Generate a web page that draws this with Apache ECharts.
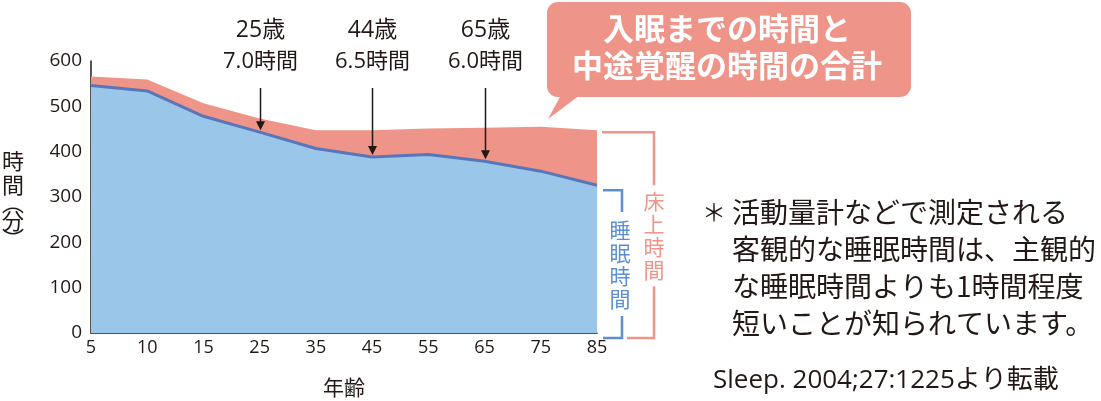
<!DOCTYPE html>
<html><head><meta charset="utf-8">
<script src="https://cdn.jsdelivr.net/npm/echarts@6/dist/echarts.min.js"></script>
<style>html,body{margin:0;padding:0;background:#fff}#c{width:1101px;height:401px}</style>
</head><body><div id="c"></div>
<script>
// ---- data ----
const categories = ['5','10','15','25','35','45','55','65','75','85'];
const sleepTime = [546, 534, 478, 443, 407, 388, 394, 379, 357, 326]; // 睡眠時間 (min)
const bedTime   = [566, 559, 507, 473, 447, 447, 451, 453, 455, 447]; // 床上時間 (min)
const yMin = 0, yMax = 600, yStep = 100;
const annCats  = ['25', '45', '65'];
const annAges  = ['25歳', '44歳', '65歳'];
const annHours = ['7.0時間', '6.5時間', '6.0時間'];
const bubbleLines = ['入眠までの時間と', '中途覚醒の時間の合計'];
const noteMark = '＊';
const noteLines = ['活動量計などで測定される', '客観的な睡眠時間は、主観的', 'な睡眠時間よりも1時間程度', '短いことが知られています。'];
const sourceText = 'Sleep. 2004;27:1225より転載';
const sleepLabel = '睡眠時間';
const bedLabel = '床上時間';

// ---- style ----
const FONT = '"Noto Sans CJK JP", "Noto Sans", sans-serif';
const NUMFONT = '"Open Sans", "Noto Sans CJK JP", sans-serif';
const INK = '#231815';
const PINK = '#EF9488';
const BLUE_FILL = '#9AC7E9';
const BLUE_LINE = '#5877BA';
const BRACKET_BLUE = '#5E8ED2';
const BRACKET_PINK = '#EF9488';

const chart = echarts.init(document.getElementById('c'), null, {renderer: 'canvas'});
chart.setOption({
  animation: false,
  backgroundColor: '#fff',
  grid: {left: 91, right: 504, top: 61, bottom: 68, outerBoundsMode: 'none', containLabel: false},
  xAxis: {
    type: 'category', data: categories, boundaryGap: false,
    axisLine: {lineStyle: {color: INK, width: 1.5}},
    axisTick: {show: false},
    axisLabel: {color: INK, fontSize: 18, fontFamily: NUMFONT, margin: 6},
    name: '年齢', nameLocation: 'middle', nameGap: 44,
    nameTextStyle: {color: INK, fontSize: 21, fontFamily: FONT}
  },
  yAxis: {
    type: 'value', min: yMin, max: yMax, interval: yStep,
    axisLine: {show: true, lineStyle: {color: INK, width: 1.5}},
    axisTick: {show: false},
    splitLine: {show: false},
    axisLabel: {color: INK, fontSize: 19, fontFamily: NUMFONT, margin: 9},
    name: '{a|時}\n{a|間}\n{p|︵}\n{a|分}\n{p|︶}',
    nameLocation: 'middle', nameRotate: 0, nameGap: 67,
    nameTextStyle: {
      color: INK, fontFamily: FONT, fontSize: 22,
      rich: {
        a: {fontSize: 22, lineHeight: 24, fontFamily: FONT, color: INK},
        p: {fontSize: 22, lineHeight: 12, fontFamily: FONT, color: INK}
      }
    }
  },
  series: [
    {
      name: '床上時間', type: 'line', data: bedTime, symbol: 'none',
      lineStyle: {width: 0, color: PINK},
      areaStyle: {color: PINK, opacity: 1}
    },
    {
      name: '睡眠時間', type: 'line', data: sleepTime, symbol: 'none',
      lineStyle: {width: 3, color: BLUE_LINE},
      areaStyle: {color: BLUE_FILL, opacity: 1}
    }
  ]
});

function px(cat, val) { return chart.convertToPixel({xAxisIndex: 0, yAxisIndex: 0}, [cat, val]); }

const g = [];
const Z = 100;
// annotations with arrows
annCats.forEach((c, i) => {
  const idx = categories.indexOf(c);
  const p = px(c, sleepTime[idx]);
  const x = Math.round(p[0]) + 0.5;
  const tip = p[1] - 2;
  g.push({type: 'text', z: Z, x: x, y: 30, style: {text: annAges[i], fill: INK, font: '23px ' + NUMFONT, textAlign: 'center', textVerticalAlign: 'middle'}});
  g.push({type: 'text', z: Z, x: x, y: 62, style: {text: annHours[i], fill: INK, font: '22px ' + NUMFONT, textAlign: 'center', textVerticalAlign: 'middle'}});
  g.push({type: 'line', z: Z, shape: {x1: x, y1: 88, x2: x, y2: tip - 6}, style: {stroke: INK, lineWidth: 1.5}});
  g.push({type: 'polygon', z: Z, shape: {points: [[x - 4.5, tip - 9], [x + 4.5, tip - 9], [x, tip]]}, style: {fill: INK}});
});

// speech bubble
g.push({type: 'rect', z: Z, shape: {x: 547, y: 2, width: 364, height: 95, r: 11}, style: {fill: PINK}});
g.push({type: 'polygon', z: Z, shape: {points: [[561, 95], [580, 95], [548, 119]]}, style: {fill: PINK}});
bubbleLines.forEach((t, i) => {
  g.push({type: 'text', z: Z + 1, x: 727, y: 28 + i * 37, style: {text: t, fill: '#fff', font: 'bold 31px ' + FONT, textAlign: 'center', textVerticalAlign: 'middle'}});
});

// brackets at the right end
const last = categories.length - 1;
const pEnd = px(categories[last], 0);
const pSleep = px(categories[last], sleepTime[last]);
const pBed = px(categories[last], bedTime[last]);
const x85 = pEnd[0];
const yBottom = pEnd[1] + 5;
// blue bracket
{
  const top = pSleep[1] + 5, bx = x85 + 25, lx = x85 + 6;
  const mid = (top + yBottom) / 2;
  g.push({type: 'polyline', z: Z, shape: {points: [[lx, top], [bx, top], [bx, mid - 52]]}, style: {stroke: BRACKET_BLUE, lineWidth: 2.5, fill: null}});
  g.push({type: 'polyline', z: Z, shape: {points: [[bx, mid + 52], [bx, yBottom], [lx, yBottom]]}, style: {stroke: BRACKET_BLUE, lineWidth: 2.5, fill: null}});
  g.push({type: 'text', z: Z, x: bx - 2, y: mid, style: {text: sleepLabel.split('').join('\n'), fill: BRACKET_BLUE, font: '21px ' + FONT, lineHeight: 23, textAlign: 'center', textVerticalAlign: 'middle'}});
}
// pink bracket
{
  const top = pBed[1] + 2, bx = x85 + 57, lx = x85 + 5, lb = x85 + 30;
  const mid = (top + yBottom) / 2;
  g.push({type: 'polyline', z: Z, shape: {points: [[lx, top], [bx, top], [bx, mid - 50]]}, style: {stroke: BRACKET_PINK, lineWidth: 2.5, fill: null}});
  g.push({type: 'polyline', z: Z, shape: {points: [[bx, mid + 51], [bx, yBottom], [lb, yBottom]]}, style: {stroke: BRACKET_PINK, lineWidth: 2.5, fill: null}});
  g.push({type: 'text', z: Z, x: bx, y: mid, style: {text: bedLabel.split('').join('\n'), fill: BRACKET_PINK, font: '21px ' + FONT, lineHeight: 23, textAlign: 'center', textVerticalAlign: 'middle'}});
}

// note text
g.push({type: 'text', z: Z, x: 714, y: 212, style: {text: noteMark, fill: INK, font: '24px ' + FONT, textAlign: 'center', textVerticalAlign: 'middle'}});
noteLines.forEach((t, i) => {
  g.push({type: 'text', z: Z, x: 732, y: 212 + i * 37, style: {text: t, fill: INK, font: '28px ' + FONT, textAlign: 'left', textVerticalAlign: 'middle'}});
});
g.push({type: 'text', z: Z, x: 713, y: 381, style: {text: sourceText, fill: INK, font: '26px ' + NUMFONT, textAlign: 'left', textVerticalAlign: 'middle'}});

chart.setOption({graphic: g});
</script>
</body></html>
